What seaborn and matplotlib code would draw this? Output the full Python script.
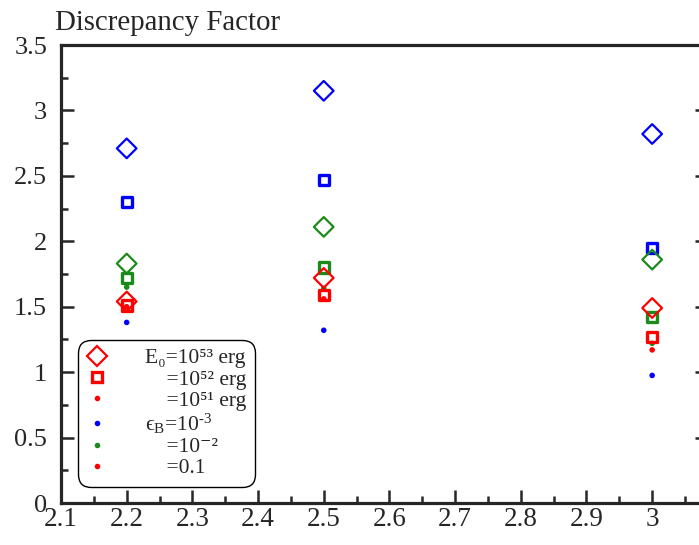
import numpy as np
import pandas as pd
import matplotlib
matplotlib.use("Agg")
import matplotlib.pyplot as plt
from matplotlib.lines import Line2D
from matplotlib.ticker import MultipleLocator
import seaborn as sns

# x positions (p values) and discrepancy factors
p_values = [2.2, 2.5, 3.0]

# eps_B = 1e-3 (blue)
blue_e53 = [2.71, 3.15, 2.82]
blue_e52 = [2.30, 2.47, 1.95]
blue_e51 = [1.38, 1.32, 0.975]
# eps_B = 1e-2 (green)
green_e53 = [1.83, 2.11, 1.86]
green_e52 = [1.72, 1.80, 1.42]
green_e51 = [1.65, 1.64, 1.22]
# eps_B = 0.1 (red)
red_e53 = [1.54, 1.72, 1.49]
red_e52 = [1.51, 1.59, 1.27]
red_e51 = [1.50, 1.56, 1.17]

eps_names = ["1e-3", "1e-2", "0.1"]
energy_names = ["53", "52", "51"]
series = {
    ("1e-3", "53"): blue_e53, ("1e-3", "52"): blue_e52, ("1e-3", "51"): blue_e51,
    ("1e-2", "53"): green_e53, ("1e-2", "52"): green_e52, ("1e-2", "51"): green_e51,
    ("0.1", "53"): red_e53, ("0.1", "52"): red_e52, ("0.1", "51"): red_e51,
}

rows = []
for (eps, en), vals in series.items():
    for x, y in zip(p_values, vals):
        rows.append({"p": x, "D": y, "eps": eps, "E0": en})
df = pd.DataFrame(rows)

COLORS = {"1e-3": "#0000ff", "1e-2": "#1a8a1a", "0.1": "#ff0000"}
MARKERS = {"53": "D", "52": "s", "51": "o"}
SIZES = {"53": 100, "52": 55, "51": 16}
LW = {"53": 1.6, "52": 2.4, "51": 0}

sns.set_style("ticks")
plt.rcParams["font.family"] = ["Liberation Serif", "DejaVu Serif"]
plt.rcParams["mathtext.fontset"] = "custom"
plt.rcParams["mathtext.rm"] = "Liberation Serif"
plt.rcParams["mathtext.it"] = "Liberation Serif:italic"

fig = plt.figure(figsize=(6.99, 5.45), dpi=100)
ax = fig.add_axes([61 / 699, 42 / 545, 647 / 699, 458 / 545])

for eps in eps_names:
    for en in energy_names:
        sub = df[(df["eps"] == eps) & (df["E0"] == en)]
        c = COLORS[eps]
        if en == "51":
            sns.scatterplot(data=sub, x="p", y="D", ax=ax, marker="o", s=SIZES[en],
                            color=c, edgecolor="none", legend=False, zorder=3)
        else:
            sns.scatterplot(data=sub, x="p", y="D", ax=ax, marker=MARKERS[en], s=SIZES[en],
                            facecolor="none", edgecolor=c, linewidth=LW[en],
                            legend=False, zorder=3)

ax.set_xlim(2.1, 3.085)
ax.set_ylim(0, 3.5)
ax.xaxis.set_minor_locator(MultipleLocator(0.05))
ax.yaxis.set_minor_locator(MultipleLocator(0.25))
ax.set_xticks([2.1, 2.2, 2.3, 2.4, 2.5, 2.6, 2.7, 2.8, 2.9, 3.0])
ax.set_xticklabels(["2.1", "2.2", "2.3", "2.4", "2.5", "2.6", "2.7", "2.8", "2.9", "3"])
ax.set_yticks([0, 0.5, 1, 1.5, 2, 2.5, 3, 3.5])
ax.set_yticklabels(["0", "0.5", "1", "1.5", "2", "2.5", "3", "3.5"])
ax.tick_params(which="both", direction="in", top=False, right=True, width=1.8)
ax.tick_params(axis="x", pad=3, labelsize=19.5)
ax.tick_params(axis="y", pad=10, labelsize=19)
ax.tick_params(which="major", length=9.5)
ax.tick_params(which="minor", length=5)
for sp in ax.spines.values():
    sp.set_linewidth(2.3)
ax.set_xlabel("")
ax.set_ylabel("")

fig.text(55 / 699, 1 - 30 / 545, "Discrepancy Factor", fontsize=20.8, ha="left", va="baseline")

handles = [
    Line2D([], [], ls="none", marker="D", ms=10, mfc="none", mec="#ff0000", mew=1.6),
    Line2D([], [], ls="none", marker="s", ms=7.4, mfc="none", mec="#ff0000", mew=2.4),
    Line2D([], [], ls="none", marker="o", ms=4, mfc="#ff0000", mec="none"),
    Line2D([], [], ls="none", marker="o", ms=4, mfc="#0000ff", mec="none"),
    Line2D([], [], ls="none", marker="o", ms=4, mfc="#1a8a1a", mec="none"),
    Line2D([], [], ls="none", marker="o", ms=4, mfc="#ff0000", mec="none"),
]
labels = [
    "E\u2080=10\u2075\u00b3 erg",
    "\u2002\u2002=10\u2075\u00b2 erg",
    "\u2002\u2002=10\u2075\u00b9 erg",
    r"$\mathregular{ϵ_B}$=10$^{\mathregular{‐3}}$",
    "\u2002\u2002=10\u207b\u00b2",
    "\u2002\u2002=0.1",
]
leg = ax.legend(handles, labels, loc="lower left", bbox_to_anchor=(0.026, 0.035),
                borderaxespad=0, fontsize=15.5, frameon=True, fancybox=True,
                edgecolor="black", framealpha=1, labelspacing=0.05,
                handlelength=1.0, handletextpad=1.7, borderpad=0.4)
leg.get_frame().set_linewidth(1.0)
leg.get_frame().set_boxstyle("round", pad=0.0, rounding_size=0.6)

fig.savefig("out.png", dpi=100)
